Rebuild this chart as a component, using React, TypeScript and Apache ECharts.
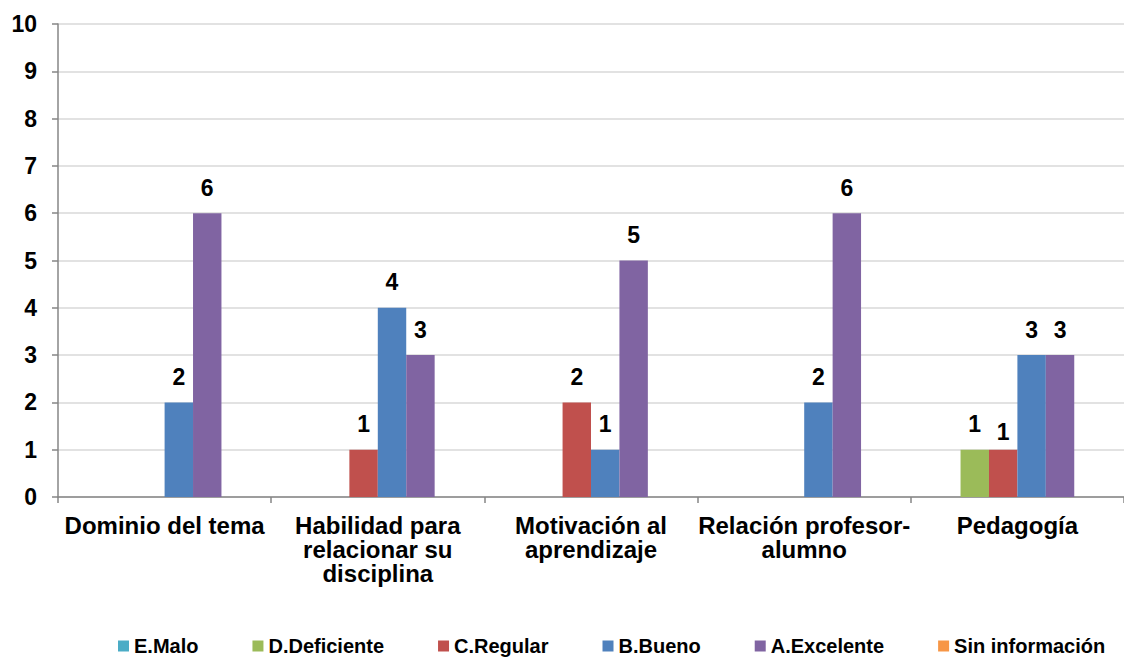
import React, { useEffect, useRef } from "react";
import * as echarts from "echarts";

const categories = [
  "Dominio del tema",
  "Habilidad para\nrelacionar su\ndisciplina",
  "Motivación al\naprendizaje",
  "Relación profesor-\nalumno",
  "Pedagogía",
];

const seriesNames = ["E.Malo", "D.Deficiente", "C.Regular", "B.Bueno", "A.Excelente", "Sin información"];
const seriesColors = ["#4BACC6", "#9BBB59", "#C0504D", "#4F81BD", "#8064A2", "#F79646"];

const eMalo = [0, 0, 0, 0, 0];
const dDeficiente = [0, 0, 0, 0, 1];
const cRegular = [0, 1, 2, 0, 1];
const bBueno = [2, 4, 1, 2, 3];
const aExcelente = [6, 3, 5, 6, 3];
const sinInformacion = [0, 0, 0, 0, 0];

const yTicks = [0, 1, 2, 3, 4, 5, 6, 7, 8, 9, 10];

const FONT = '"Liberation Sans", Arial, sans-serif';

export default function App() {
  const ref = useRef<HTMLDivElement>(null);
  useEffect(() => {
    if (!ref.current) return;
    const chart = echarts.init(ref.current, null, { renderer: "svg" });
    const allData = [eMalo, dDeficiente, cRegular, bBueno, aExcelente, sinInformacion];
    const series = allData.map((arr, si) => ({
      name: seriesNames[si],
      type: "bar",
      barGap: "0%",
      barCategoryGap: "20%",
      itemStyle: { color: seriesColors[si] },
      data: arr.map((v, ci) => {
        // Excel nudged the overlapping label of C.Regular on the last category
        if (si === 2 && ci === 4) return { value: v, label: { distance: 6 } };
        return v;
      }),
      label: {
        show: true,
        position: "top",
        distance: 14,
        color: "#000",
        fontWeight: "bold",
        fontSize: 23,
        fontFamily: FONT,
        formatter: (p: any) => (p.value ? String(p.value) : ""),
      },
    }));
    chart.setOption({
      animation: false,
      backgroundColor: "#fff",
      textStyle: { fontFamily: FONT },
      grid: { left: 58, top: 24, width: 1076, height: 473, containLabel: false },
      legend: {
        data: seriesNames,
        left: 113,
        top: 629,
        itemGap: 54,
        itemWidth: 11,
        itemHeight: 11,
        icon: "rect",
        textStyle: { color: "#000", fontWeight: "bold", fontSize: 20, lineHeight: 24, fontFamily: FONT },
      },
      xAxis: {
        type: "category",
        data: categories,
        axisLine: { lineStyle: { color: "#868686", width: 1.5 } },
        axisTick: { show: true, length: 6, lineStyle: { color: "#868686", width: 1.5 } },
        axisLabel: {
          color: "#000",
          fontWeight: "bold",
          fontSize: 24,
          lineHeight: 24,
          margin: 16,
          fontFamily: FONT,
          interval: 0,
        },
      },
      yAxis: {
        type: "value",
        min: yTicks[0],
        max: yTicks[yTicks.length - 1],
        interval: 1,
        axisLine: { show: true, lineStyle: { color: "#868686", width: 1.5 } },
        axisTick: { show: true, length: 6, lineStyle: { color: "#868686", width: 1.5 } },
        splitLine: { lineStyle: { color: "#d9d9d9", width: 1.5 } },
        axisLabel: {
          color: "#000",
          fontWeight: "bold",
          fontSize: 23,
          margin: 21,
          fontFamily: FONT,
        },
      },
      series,
    });
    return () => chart.dispose();
  }, []);
  return (
    <div
      ref={ref}
      style={{ position: "fixed", left: 0, top: 0, width: 1124, height: 657, background: "#fff" }}
    />
  );
}
